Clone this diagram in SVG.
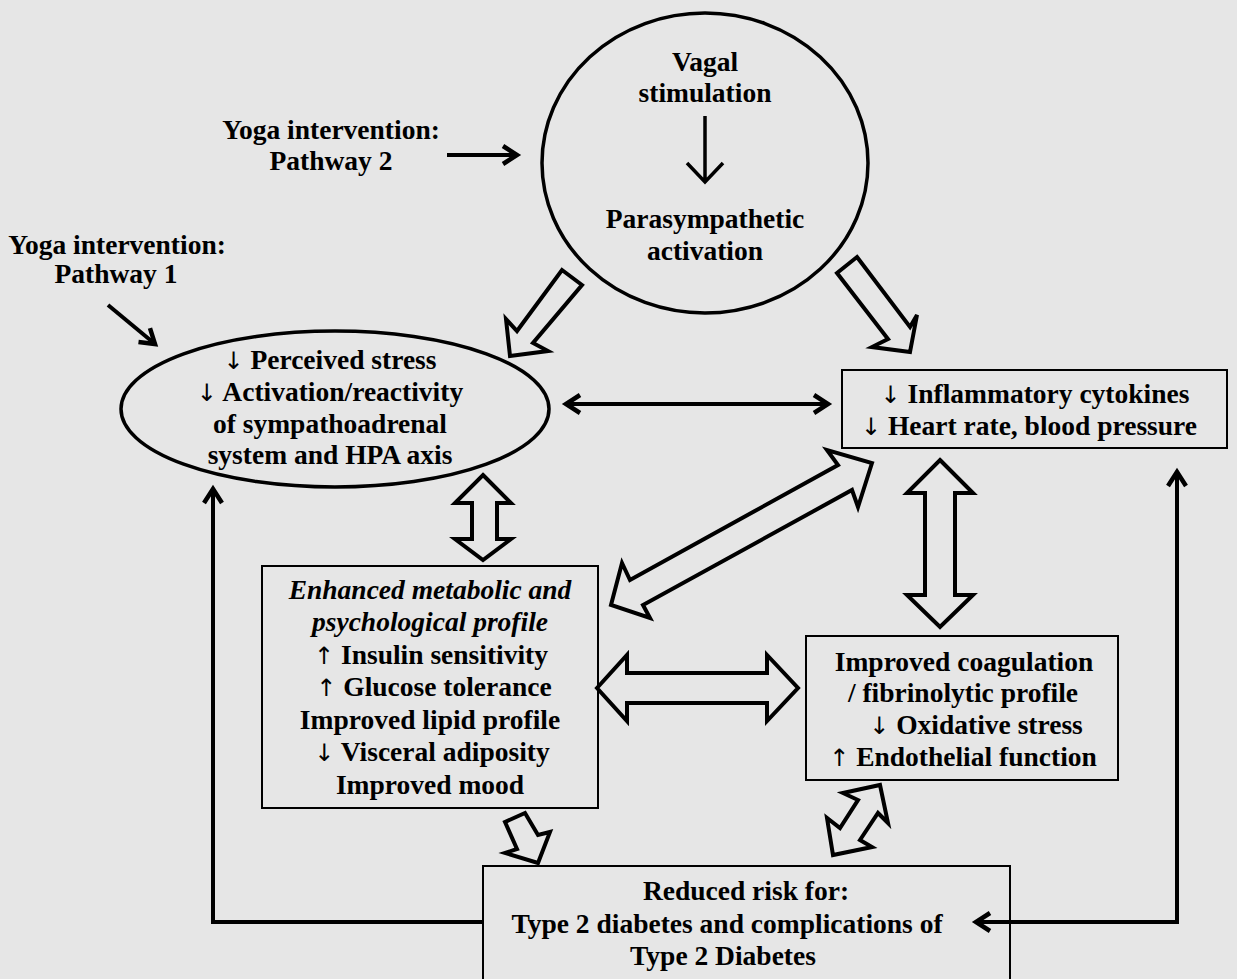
<svg xmlns="http://www.w3.org/2000/svg" width="1237" height="979" viewBox="0 0 1237 979">
<defs>
<style>
text{font-family:"Liberation Serif","Times New Roman",serif;font-weight:bold;font-size:27.5px;fill:#000;text-anchor:middle}
.it{font-style:italic}
.ar{font-family:"DejaVu Sans",sans-serif;font-weight:normal;font-size:24px}
.box{fill:none;stroke:#000;stroke-width:2}
.ell{fill:none;stroke:#000;stroke-width:3.5}
.blk{fill:#e6e6e6;stroke:#000;stroke-width:4;stroke-linejoin:miter}
.ln{fill:none;stroke:#000;stroke-width:4}
</style>
<marker id="ah" markerUnits="userSpaceOnUse" markerWidth="26" markerHeight="26" viewBox="0 0 26 26" refX="21" refY="13" orient="auto-start-reverse">
<path d="M7,4 L21,13 L7,22" fill="none" stroke="#000" stroke-width="4.5" stroke-linejoin="miter"/>
</marker>
</defs>
<rect x="0" y="0" width="1237" height="979" fill="#e6e6e6"/>

<g id="vagal">
<ellipse class="ell" cx="705" cy="163" rx="163" ry="150"/>
<text x="705" y="71">Vagal</text>
<text x="705" y="102">stimulation</text>
<path d="M705,116 L705,181 M687,163 L705,182 L723,163" fill="none" stroke="#000" stroke-width="3.5"/>
<text x="705" y="228">Parasympathetic</text>
<text x="705" y="260">activation</text>
</g>

<g id="pathway2">
<text x="331" y="139">Yoga intervention:</text>
<text x="331" y="170">Pathway 2</text>
</g>

<g id="pathway1">
<text x="117" y="254">Yoga intervention:</text>
<text x="116" y="283">Pathway 1</text>
</g>

<g id="stress">
<ellipse class="ell" cx="335" cy="409" rx="214" ry="78"/>
<text x="330" y="369"><tspan class="ar">↓</tspan> Perceived stress</text>
<text x="330" y="401"><tspan class="ar">↓</tspan> Activation/reactivity</text>
<text x="330" y="433">of sympathoadrenal</text>
<text x="330" y="464">system and HPA axis</text>
</g>

<g id="inflammatory">
<rect class="box" x="842" y="370" width="385" height="78"/>
<text x="1035" y="403"><tspan class="ar">↓</tspan> Inflammatory cytokines</text>
<text x="1029" y="435"><tspan class="ar">↓</tspan> Heart rate, blood pressure</text>
</g>

<g id="metabolic">
<rect class="box" x="262" y="566" width="336" height="242"/>
<text class="it" x="430" y="599">Enhanced metabolic and</text>
<text class="it" x="430" y="631">psychological profile</text>
<text x="431" y="664"><tspan class="ar">↑</tspan> Insulin sensitivity</text>
<text x="434" y="696"><tspan class="ar">↑</tspan> Glucose tolerance</text>
<text x="430" y="729">Improved lipid profile</text>
<text x="432" y="761"><tspan class="ar">↓</tspan> Visceral adiposity</text>
<text x="430" y="794">Improved mood</text>
</g>

<g id="coagulation">
<rect class="box" x="806" y="636" width="312" height="144"/>
<text x="964" y="671">Improved coagulation</text>
<text x="963" y="702">/ fibrinolytic profile</text>
<text x="976" y="734"><tspan class="ar">↓</tspan> Oxidative stress</text>
<text x="963" y="766"><tspan class="ar">↑</tspan> Endothelial function</text>
</g>

<g id="risk">
<rect class="box" x="483" y="866" width="527" height="130"/>
<text x="746" y="900">Reduced risk for:</text>
<text x="727" y="933">Type 2 diabetes and complications of</text>
<text x="723" y="965">Type 2 Diabetes</text>
</g>

<g id="connectors">
<line class="ln" x1="447" y1="155" x2="517" y2="155" marker-end="url(#ah)"/>
<line class="ln" x1="108" y1="305" x2="155" y2="344" marker-end="url(#ah)"/>
<line class="ln" x1="566" y1="404" x2="828" y2="404" marker-start="url(#ah)" marker-end="url(#ah)"/>
<polyline class="ln" points="483,922 213,922 213,489" marker-end="url(#ah)"/>
<polyline class="ln" points="1177,472 1177,922 976,922" marker-start="url(#ah)" marker-end="url(#ah)"/>
<polygon class="blk" points="562,270 582,285 533,343 548,351 510,356 506,319 517,331"/>
<polygon class="blk" points="857,257 910,327 917,315 910,352 872,347 888,339 837,273"/>
<polygon class="blk" points="483,475 511,503 497,503 497,539 511,539 483,560 455,539 472,539 472,503 455,503"/>
<polygon class="blk" points="872,463 858,507 852,490 643,605 650,618 611,605 622,563 630,580 838,465 827,450"/>
<polygon class="blk" points="940,460 973,493 955,493 955,595 973,595 940,627 907,595 925,595 925,493 907,493"/>
<polygon class="blk" points="597,688 627,655 627,673 767,673 767,655 798,688 767,721 767,703 627,703 627,721"/>
<polygon class="blk" points="505,822 517,849 505,853 538,863 550,832 538,835 525,813"/>
<polygon class="blk" points="880,785 888,823 878,813 860,840 872,847 833,855 827,818 840,828 858,800 843,793"/>
</g>
</svg>
